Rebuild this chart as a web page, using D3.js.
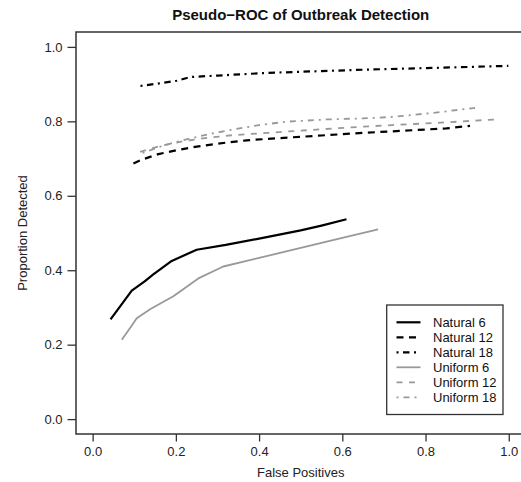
<!DOCTYPE html>
<html>
<head>
<meta charset="utf-8">
<script src="https://cdn.jsdelivr.net/npm/d3@7"></script>
<style>
  html, body { margin: 0; padding: 0; background: #fff; }
  svg { display: block; font-family: "Liberation Sans", Arial, Helvetica, sans-serif; }
</style>
</head>
<body>
<svg id="chart" width="521" height="482"></svg>
<script>
// Detection curves: false-positive rate (x) vs proportion detected (y)
const natural6X  = [0.043, 0.094, 0.125, 0.145, 0.19, 0.25, 0.32, 0.40, 0.50, 0.55, 0.61];
const natural6Y  = [0.268, 0.345, 0.370, 0.388, 0.425, 0.455, 0.468, 0.485, 0.507, 0.520, 0.537];
const natural12X = [0.098, 0.118, 0.158, 0.20, 0.25, 0.30, 0.37, 0.45, 0.55, 0.65, 0.75, 0.85, 0.907];
const natural12Y = [0.687, 0.697, 0.712, 0.722, 0.732, 0.740, 0.749, 0.755, 0.762, 0.769, 0.775, 0.781, 0.788];
const natural18X = [0.115, 0.16, 0.202, 0.234, 0.30, 0.418, 0.55, 0.659, 0.80, 0.999];
const natural18Y = [0.895, 0.902, 0.909, 0.919, 0.923, 0.930, 0.935, 0.939, 0.943, 0.949];
const uniform6X  = [0.07, 0.09, 0.106, 0.138, 0.194, 0.254, 0.314, 0.40, 0.50, 0.60, 0.686];
const uniform6Y  = [0.213, 0.245, 0.271, 0.295, 0.330, 0.378, 0.410, 0.433, 0.460, 0.487, 0.510];
const uniform12X = [0.114, 0.16, 0.21, 0.27, 0.338, 0.42, 0.50, 0.61, 0.72, 0.83, 0.967];
const uniform12Y = [0.718, 0.733, 0.745, 0.755, 0.763, 0.769, 0.775, 0.783, 0.790, 0.796, 0.805];
const uniform18X = [0.12, 0.17, 0.234, 0.29, 0.338, 0.40, 0.466, 0.5625, 0.65, 0.723, 0.82, 0.919];
const uniform18Y = [0.715, 0.735, 0.754, 0.768, 0.778, 0.790, 0.799, 0.805, 0.808, 0.812, 0.823, 0.836];

const seriesNames = ["Natural 6", "Natural 12", "Natural 18", "Uniform 6", "Uniform 12", "Uniform 18"];
const xTicks = [0, 0.2, 0.4, 0.6, 0.8, 1.0];
const yTicks = [0, 0.2, 0.4, 0.6, 0.8, 1.0];

const seriesX = [natural6X, natural12X, natural18X, uniform6X, uniform12X, uniform18X];
const seriesY = [natural6Y, natural12Y, natural18Y, uniform6Y, uniform12Y, uniform18Y];

// line styles: solid, dashed, dot-dash; black for Natural, grey for Uniform
const styles = [
  { color: "#000", width: 2.2, dash: null },
  { color: "#000", width: 2.2, dash: "7,5.5" },
  { color: "#000", width: 2.2, dash: "2,4.5,6.5,4.5" },
  { color: "#999", width: 1.8, dash: null },
  { color: "#999", width: 1.8, dash: "6,6.5" },
  { color: "#999", width: 1.8, dash: "2,5,6,5" }
];

const svg = d3.select("#chart");
const box = { left: 76, top: 32, bottom: 434 };
const x = d3.scaleLinear().domain([-0.04, 1.04]).range([box.left, 525.4]);
const y = d3.scaleLinear().domain([-0.04, 1.04]).range([box.bottom, box.top]);
const axisColor = "#333";

// series lines
const line = d3.line().x(d => x(d[0])).y(d => y(d[1]));
seriesNames.forEach((name, i) => {
  const pts = seriesX[i].map((v, j) => [v, seriesY[i][j]]);
  const s = styles[i];
  svg.append("path")
    .attr("d", line(pts))
    .attr("fill", "none")
    .attr("stroke", s.color)
    .attr("stroke-width", s.width)
    .attr("stroke-linejoin", "round")
    .attr("stroke-dasharray", s.dash);
});

// plot frame (right edge runs past the window)
svg.append("rect")
  .attr("x", box.left).attr("y", box.top)
  .attr("width", x.range()[1] - box.left).attr("height", box.bottom - box.top)
  .attr("fill", "none").attr("stroke", axisColor).attr("stroke-width", 1.5);

// x axis
const xAxis = d3.axisBottom(x).tickValues(xTicks).tickFormat(d3.format(".1f")).tickSize(7.5).tickPadding(5);
const gx = svg.append("g").attr("transform", `translate(0,${box.bottom})`).call(xAxis);
gx.select(".domain").remove();
gx.selectAll(".tick line").attr("stroke", axisColor).attr("stroke-width", 1.3);
gx.selectAll(".tick text").attr("fill", "#222").style("font-size", "13px")
  .style("font-family", "'Liberation Sans', Arial, sans-serif");

// y axis
const yAxis = d3.axisLeft(y).tickValues(yTicks).tickFormat(d3.format(".1f")).tickSize(8.5).tickPadding(5);
const gy = svg.append("g").attr("transform", `translate(${box.left},0)`).call(yAxis);
gy.select(".domain").remove();
gy.selectAll(".tick line").attr("stroke", axisColor).attr("stroke-width", 1.3);
gy.selectAll(".tick text").attr("fill", "#222").style("font-size", "13px")
  .style("font-family", "'Liberation Sans', Arial, sans-serif");

// titles
const cx = (box.left + x.range()[1]) / 2;
svg.append("text").attr("x", cx).attr("y", 19.5).attr("text-anchor", "middle")
  .style("font-size", "15px").style("font-weight", "bold").attr("fill", "#111")
  .text("Pseudo\u2212ROC of Outbreak Detection");
svg.append("text").attr("x", cx).attr("y", 477).attr("text-anchor", "middle")
  .style("font-size", "13px").attr("fill", "#222").text("False Positives");
svg.append("text")
  .attr("transform", `translate(27,${(box.top + box.bottom) / 2}) rotate(-90)`)
  .attr("text-anchor", "middle").style("font-size", "13px").attr("fill", "#222")
  .text("Proportion Detected");

// legend
const lg = svg.append("g");
lg.append("rect").attr("x", 386.7).attr("y", 305).attr("width", 116.3).attr("height", 109.5)
  .attr("fill", "#fff").attr("stroke", axisColor).attr("stroke-width", 1.3);
seriesNames.forEach((name, i) => {
  const ry = 322.3 + i * 15;
  const s = styles[i];
  lg.append("line").attr("x1", 396.5).attr("x2", 420.5).attr("y1", ry).attr("y2", ry)
    .attr("stroke", s.color).attr("stroke-width", s.width).attr("stroke-dasharray", s.dash);
  lg.append("text").attr("x", 433).attr("y", ry).attr("dy", "0.35em")
    .style("font-size", "13px").attr("fill", "#111").text(name);
});
</script>
</body>
</html>
